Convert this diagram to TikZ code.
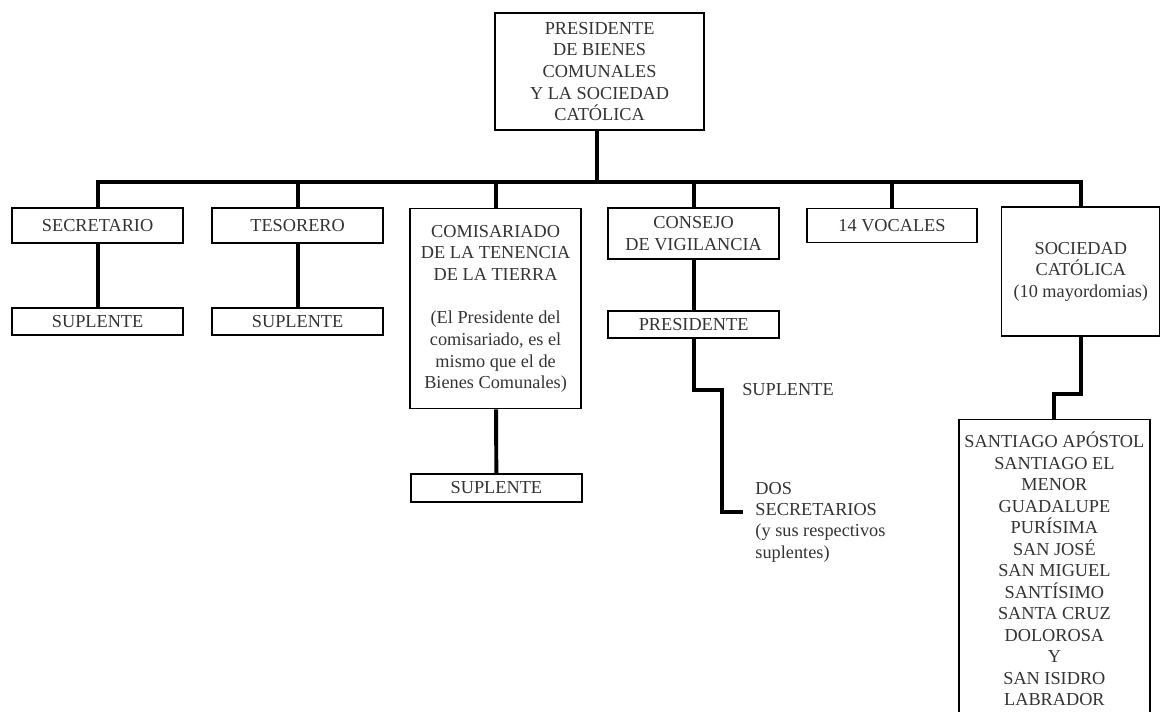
\documentclass[tikz,border=0pt]{standalone}
\usepackage{fontspec}
\setmainfont{Liberation Serif}
\begin{document}
\begin{tikzpicture}[
    box/.style={draw, line width=0.9pt, text=black!80, align=center, inner sep=2pt,
      font=\fontsize{13}{15.4}\selectfont},
    word/.style={text=black!80, inner sep=0.1cm, font=\fontsize{13}{15.2}\selectfont},
    link/.style={line width=2.8pt, line join=miter}
  ]

    \clip (0, 0) rectangle (29.05, -17.775);

    % Head
    \node[box, minimum width=5.225cm, minimum height=2.925cm] (P) at (14.99, -1.79)
      {PRESIDENTE\\ DE BIENES\\ COMUNALES\\ Y LA SOCIEDAD\\ CATÓLICA};

    % First level
    \node[box, minimum width=4.275cm, minimum height=0.875cm] (S) at (2.44, -5.64) {SECRETARIO};
    \node[box, minimum width=4.275cm, minimum height=0.875cm] (T) at (7.44, -5.64) {TESORERO};
    \node[box, minimum width=4.275cm, minimum height=5cm] (C) at (12.39, -7.72)
      {COMISARIADO\\ DE LA TENENCIA\\ DE LA TIERRA\\[15.4pt] (El Presidente del\\
       comisariado, es el\\ mismo que el de\\ Bienes Comunales)};
    \node[box, minimum width=4.275cm, minimum height=1.275cm] (V) at (17.34, -5.84)
      {CONSEJO\\ DE VIGILANCIA};
    \node[box, minimum width=4.25cm, minimum height=0.85cm] (VO) at (22.3, -5.63) {14 VOCALES};
    \node[box, minimum width=3.95cm, minimum height=3.225cm] (SC) at (27.02, -6.79)
      {SOCIEDAD\\ CATÓLICA\\ (10 mayordomias)};

    % Second level
    \node[box, minimum width=4.275cm, minimum height=0.675cm] (S2) at (2.44, -8.04) {SUPLENTE};
    \node[box, minimum width=4.275cm, minimum height=0.675cm] (T2) at (7.44, -8.04) {SUPLENTE};
    \node[box, minimum width=4.275cm, minimum height=0.7cm] (C2) at (12.41, -12.2) {SUPLENTE};
    \node[box, minimum width=4.275cm, minimum height=0.675cm] (VP) at (17.34, -8.11) {PRESIDENTE};
    \node[word, anchor=west] (VS) at (18.45, -9.75) {SUPLENTE};
    \node[word, anchor=west, align=left] (VD) at (18.78, -13.05)
      {DOS\\ SECRETARIOS\\ (y sus respectivos\\ suplentes)};
    \node[box, minimum width=4.775cm, minimum height=7.45cm,
      font=\fontsize{13}{15.3}\selectfont] (M) at (26.36, -14.22)
      {SANTIAGO APÓSTOL\\ SANTIAGO EL\\ MENOR\\ GUADALUPE\\ PURÍSIMA\\ SAN JOSÉ\\
       SAN MIGUEL\\ SANTÍSIMO\\ SANTA CRUZ\\ DOLOROSA\\ Y\\ SAN ISIDRO\\ LABRADOR};

    % Lines
    \coordinate (bar) at (14.93, -4.55);
    \draw[link] (P.south -| bar) -- (bar);
    \draw[link] (S.north) |- (SC.north |- bar) -- (SC.north);
    \foreach \n in {T, C, V, VO}
      \draw[link] (\n.north) -- (\n.north |- bar);
    \draw[link] (S) -- (S2);
    \draw[link] (T) -- (T2);
    \draw[link] (C) -- (C2);
    \draw[link] (V) -- (VP);
    \coordinate (Vjog) at (18.05, -9.75);
    \coordinate (Dend) at (18.58, -12.8);
    \draw[link] (VP.south) |- (Vjog) |- (Dend);
    \draw[link] (SC.south) -- ++(0, -1.43) -| (M.north);

\end{tikzpicture}
\end{document}
